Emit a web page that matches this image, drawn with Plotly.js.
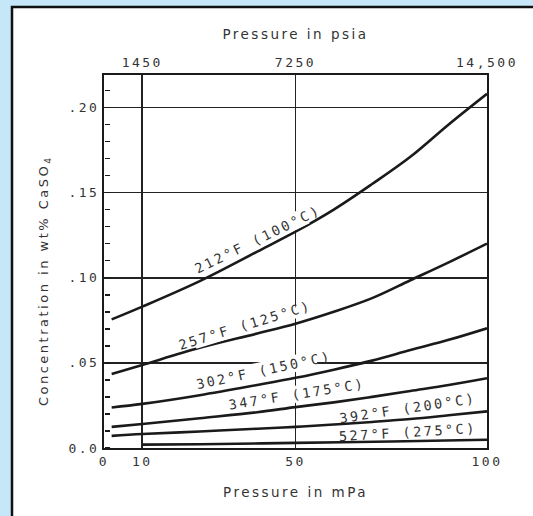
<!DOCTYPE html>
<html>
<head>
<meta charset="utf-8">
<script src="https://cdn.plot.ly/plotly-3.0.1.min.js"></script>
<style>
  html, body { margin: 0; padding: 0; background: #c6e7f8; }
  #chart { width: 533px; height: 516px; }
  .main-svg text { letter-spacing: 2.5px; }
</style>
</head>
<body>
<div id="chart"></div>
<script>
// Pressure in MPa (bottom axis)
const pressure = [2, 10, 25, 40, 50, 60, 70, 80, 90, 100];
const pressure527 = [10, 25, 50, 75, 100];
// Concentration in wt% CaSO4
const conc212 = [0.0755, 0.083, 0.098, 0.1153, 0.127, 0.140, 0.155, 0.171, 0.190, 0.208];
const conc257 = [0.0435, 0.0488, 0.0588, 0.0672, 0.073, 0.080, 0.088, 0.0985, 0.109, 0.120];
const conc302 = [0.0238, 0.0259, 0.031, 0.037, 0.0412, 0.046, 0.0513, 0.0575, 0.0635, 0.0703];
const conc347 = [0.0124, 0.0141, 0.0175, 0.021, 0.024, 0.0268, 0.030, 0.0335, 0.037, 0.041];
const conc392 = [0.0071, 0.0082, 0.0097, 0.0113, 0.0124, 0.0138, 0.0153, 0.017, 0.0192, 0.0215];
const conc527 = [0.002, 0.0022, 0.003, 0.0038, 0.0048];

const curveLabels = ['212°F (100°C)', '257°F (125°C)', '302°F (150°C)', '347°F (175°C)', '392°F (200°C)', '527°F (275°C)'];

// Axis ticks
const bottomTickVals = [0, 10, 50, 100];
const bottomTickText = ['0', '10', '50', '100'];
const topTickVals = [10, 50, 100];
const topTickText = ['1450', '7250', '14,500'];
const yTickAlias = { '0': '0.0', '0.05': '.05', '0.1': '.10', '0.15': '.15', '0.2': '.20' };

const ink = '#1a1a1a';
const textInk = '#333333';
const mono = 'DejaVu Sans Mono, monospace';
const sans = 'DejaVu Sans, sans-serif';

function curve(x, y) {
  return { x: x, y: y, type: 'scatter', mode: 'lines', line: { color: ink, width: 2.6, shape: 'spline', smoothing: 1 }, hoverinfo: 'skip', showlegend: false };
}

const traces = [
  curve(pressure, conc212),
  curve(pressure, conc257),
  curve(pressure, conc302),
  curve(pressure, conc347),
  curve(pressure, conc392),
  curve(pressure527, conc527),
  { x: topTickVals, y: [null, null, null], xaxis: 'x2', yaxis: 'y', type: 'scatter', mode: 'lines', showlegend: false, hoverinfo: 'skip' },
  { x: [pressure[0]], y: [conc212[0]], xaxis: 'x', yaxis: 'y2', type: 'scatter', mode: 'markers', marker: { opacity: 0, size: 1 }, showlegend: false, hoverinfo: 'skip' }
];

const labelPos = [
  { x: 40.2, y: 0.1225, a: -26, bg: true },
  { x: 36.8, y: 0.0725, a: -17, bg: true },
  { x: 41.8, y: 0.046, a: -12, bg: true },
  { x: 50.4, y: 0.0318, a: -9, bg: true },
  { x: 79.4, y: 0.0232, a: -8.5, bg: false },
  { x: 79.4, y: 0.0092, a: -3.5, bg: false }
];

const annotations = curveLabels.map((t, i) => ({
  text: t, x: labelPos[i].x, y: labelPos[i].y, xref: 'x', yref: 'y',
  showarrow: false, textangle: labelPos[i].a,
  bgcolor: labelPos[i].bg ? '#ffffff' : 'rgba(0,0,0,0)', borderpad: 0,
  font: { family: mono, size: 13.5, color: textInk }
}));

annotations.push({
  text: 'Concentration in wt% CaSO<sub>4</sub>', xref: 'paper', yref: 'paper',
  x: -0.183, y: 0.45, showarrow: false, textangle: -90,
  font: { family: sans, size: 13, color: textInk }
});

const layout = {
  width: 533, height: 516,
  margin: { l: 104, r: 46, t: 75, b: 68 },
  paper_bgcolor: '#c6e7f8',
  plot_bgcolor: '#ffffff',
  showlegend: false,
  shapes: [
    { type: 'rect', xref: 'paper', yref: 'paper', x0: -0.2402, x1: 1.3, y0: -0.3, y1: 1.1823,
      fillcolor: '#ffffff', line: { color: '#111111', width: 2.5 }, layer: 'below' }
  ],
  xaxis: {
    range: [0, 100], tickmode: 'array', tickvals: bottomTickVals, ticktext: bottomTickText,
    showgrid: true, gridcolor: '#222222', gridwidth: 1.7, zeroline: false,
    showline: true, linecolor: ink, linewidth: 2, mirror: true, ticks: '',
    tickfont: { family: mono, size: 13, color: textInk },
    title: { text: 'Pressure in mPa', standoff: 20, font: { family: sans, size: 13.5, color: textInk } },
    fixedrange: true
  },
  xaxis2: {
    range: [0, 100], overlaying: 'x', side: 'top', tickmode: 'array', tickvals: topTickVals, ticktext: topTickText,
    showgrid: false, zeroline: false, showline: false, ticks: '', ticklabelstandoff: 4,
    tickfont: { family: mono, size: 13, color: textInk },
    title: { text: 'Pressure in psia', standoff: 12, font: { family: sans, size: 13.5, color: textInk } },
    fixedrange: true
  },
  yaxis: {
    range: [0, 0.219], tickmode: 'linear', tick0: 0, dtick: 0.05, labelalias: yTickAlias,
    showgrid: true, gridcolor: '#222222', gridwidth: 1.7, zeroline: false,
    showline: true, linecolor: ink, linewidth: 2, mirror: true, ticks: '',
    tickfont: { family: mono, size: 13, color: textInk },
    fixedrange: true
  },
  yaxis2: {
    range: [0, 0.219], overlaying: 'y', side: 'right', anchor: 'free', position: 0,
    tickmode: 'linear', tick0: 0, dtick: 0.01, ticks: 'outside', ticklen: 5, tickwidth: 1.6, tickcolor: ink,
    showticklabels: false, showgrid: false, zeroline: false, showline: false,
    fixedrange: true
  },
  annotations: annotations
};

Plotly.newPlot('chart', traces, layout, { staticPlot: true, displayModeBar: false });
</script>
</body>
</html>
